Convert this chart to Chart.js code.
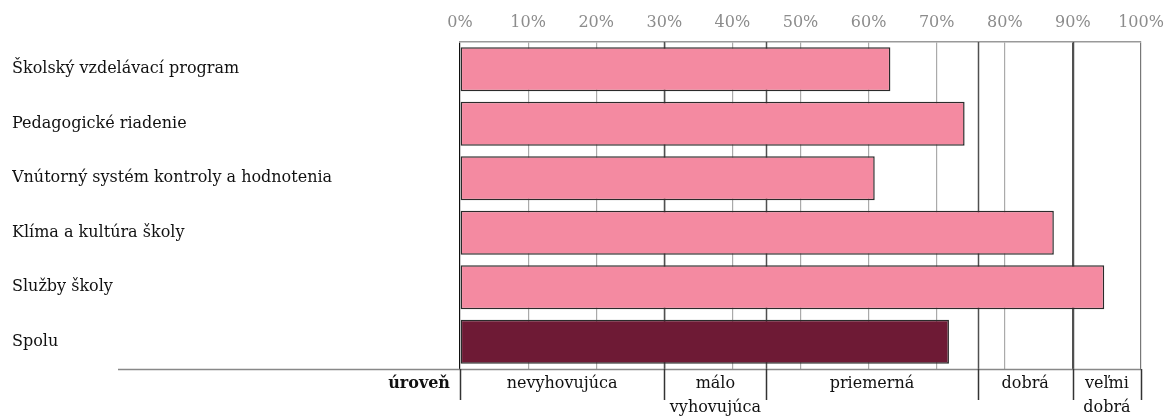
<!DOCTYPE html>
<html>
<head>
<meta charset="utf-8">
<script src="https://cdn.jsdelivr.net/npm/chart.js@4/dist/chart.umd.min.js"></script>
<style>
  html, body { margin: 0; padding: 0; background: #ffffff; }
  #wrap { width: 1165px; height: 417px; position: relative; }
</style>
</head>
<body>
<div id="wrap"><canvas id="c"></canvas></div>
<script>
// Evaluated areas and their share of the maximum score (%)
const categories = [
  'Školský vzdelávací program',
  'Pedagogické riadenie',
  'Vnútorný systém kontroly a hodnotenia',
  'Klíma a kultúra školy',
  'Služby školy',
  'Spolu'
];
const values = [63.2, 74.1, 60.9, 87.2, 94.6, 71.8];

// Rating levels: bounds of each band (%) and its name
const levelBounds = [0, 30, 45, 76, 90, 100];
const levelNames = [
  ['nevyhovujúca'],
  ['málo', 'vyhovujúca'],
  ['priemerná'],
  ['dobrá'],
  ['veľmi', 'dobrá']
];
const levelTitle = 'úroveň';

const FONT = "'DejaVu Serif', 'Liberation Serif', serif";
const barColors = categories.map((c, i) => i === categories.length - 1 ? '#6e1a35' : '#f48aa1');

// Level boundaries and the rating table below the plot
const levelsPlugin = {
  id: 'levels',
  beforeDatasetsDraw(chart) {
    const { ctx, chartArea, scales } = chart;
    const x = scales.x;
    ctx.save();
    ctx.strokeStyle = '#505050';
    ctx.lineWidth = 1.5;
    levelBounds.slice(1, -1).forEach(v => {
      const px = Math.round(x.getPixelForValue(v)) + 0.5;
      ctx.beginPath();
      ctx.moveTo(px, chartArea.top);
      ctx.lineTo(px, chartArea.bottom);
      ctx.stroke();
    });
    ctx.restore();
  },
  afterDraw(chart) {
    const { ctx, chartArea, scales } = chart;
    const x = scales.x;
    const lineY = chartArea.bottom + 0.5;
    ctx.save();
    // horizontal rule under the plot
    ctx.strokeStyle = '#888888';
    ctx.lineWidth = 1.5;
    ctx.beginPath();
    ctx.moveTo(118, lineY);
    ctx.lineTo(x.getPixelForValue(100), lineY);
    ctx.stroke();
    // band separators
    ctx.strokeStyle = '#333333';
    ctx.lineWidth = 1.5;
    levelBounds.forEach(v => {
      const px = Math.round(x.getPixelForValue(v)) + 0.5;
      ctx.beginPath();
      ctx.moveTo(px, chartArea.bottom);
      ctx.lineTo(px, chartArea.bottom + 31);
      ctx.stroke();
    });
    // band names
    ctx.fillStyle = '#111111';
    ctx.font = '16px ' + FONT;
    ctx.textBaseline = 'middle';
    ctx.textAlign = 'center';
    levelNames.forEach((lines, i) => {
      const cx = (x.getPixelForValue(levelBounds[i]) + x.getPixelForValue(levelBounds[i + 1])) / 2;
      const y0 = chartArea.bottom + 15;
      lines.forEach((t, j) => ctx.fillText(t, cx, y0 + j * 24));
    });
    ctx.font = 'bold 16px ' + FONT;
    ctx.textAlign = 'right';
    ctx.fillText(levelTitle, x.getPixelForValue(0) - 10, chartArea.bottom + 15);
    ctx.restore();
  }
};

new Chart(document.getElementById('c'), {
  type: 'bar',
  data: {
    labels: categories,
    datasets: [{
      data: values,
      backgroundColor: barColors,
      borderColor: '#2b2b2b',
      borderWidth: 1.5,
      borderSkipped: false,
      categoryPercentage: 1,
      barPercentage: 0.81
    }]
  },
  plugins: [levelsPlugin],
  options: {
    indexAxis: 'y',
    responsive: true,
    maintainAspectRatio: false,
    animation: false,
    layout: { padding: { left: 12, right: 0, top: 0, bottom: 48 } },
    plugins: { legend: { display: false }, tooltip: { enabled: false } },
    scales: {
      x: {
        position: 'top',
        min: 0,
        max: 100,
        ticks: {
          stepSize: 10,
          callback: v => v + '%',
          color: '#8c8c8c',
          padding: 10,
          font: { family: FONT, size: 16 }
        },
        grid: {
          drawTicks: false,
          lineWidth: 1.2,
          color: ctx => {
            const v = ctx.tick ? ctx.tick.value : null;
            if (v === 0) return '#111111';
            if (v === 30 || v === 90) return '#505050';
            if (v === 100) return '#777777';
            return '#aaaaaa';
          }
        },
        border: { display: true, color: '#999999', width: 1.5 },
        afterFit: s => { s.height = 42; s.paddingRight = 24; }
      },
      y: {
        ticks: {
          crossAlign: 'far',
          color: '#111111',
          font: { family: FONT, size: 16 }
        },
        grid: { display: false, drawTicks: false },
        border: { display: false },
        afterFit: s => { s.width = 448; }
      }
    }
  }
});
</script>
</body>
</html>
